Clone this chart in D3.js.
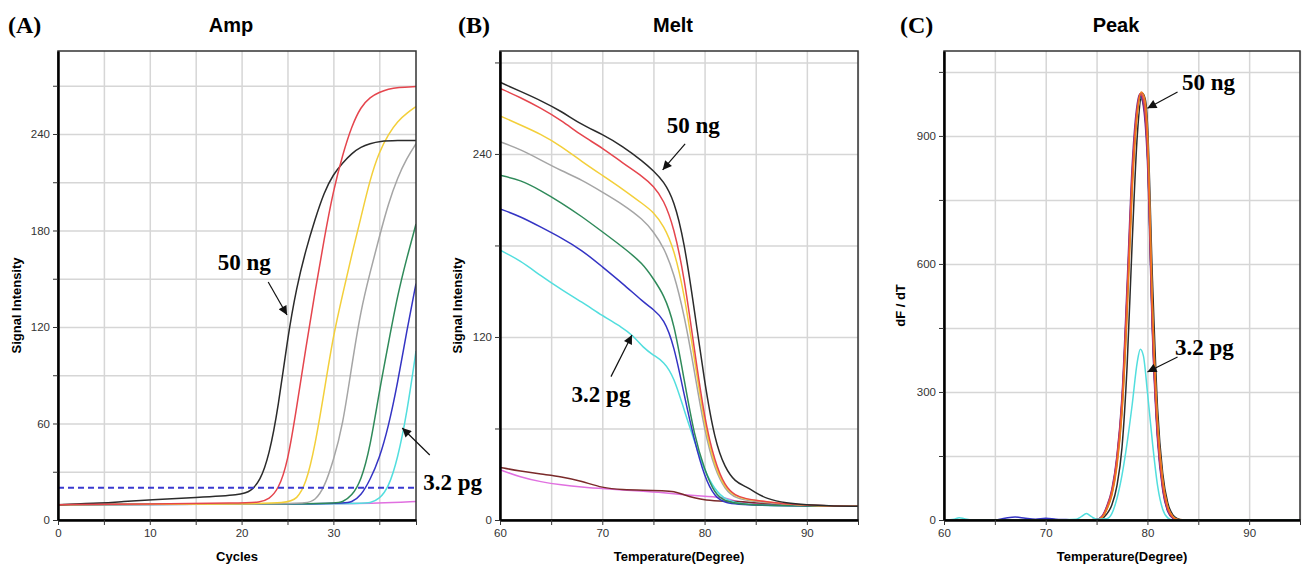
<!DOCTYPE html>
<html>
<head>
<meta charset="utf-8">
<script src="https://cdn.jsdelivr.net/npm/d3@7"></script>
<style>
  body { margin: 0; background: #fff; }
  svg { display: block; }
</style>
</head>
<body>
<svg width="1303" height="569"></svg>
<script>
// ---------- (A) Amp : cycle vs signal ----------
const ampXTicks = [0, 5, 10, 15, 20, 25, 30, 35]
const ampXLabels = [0, 10, 20, 30]
const ampYTicks = [0, 30, 60, 90, 120, 150, 180, 210, 240, 270]
const ampYLabels = [0, 60, 120, 180, 240]
const ampThreshold = 20

const ampBlack = [[0, 9.5], [5, 10.5], [7, 11.5], [10, 12.5], [15, 14], [20, 15.5], [21, 18], [22, 24], [23, 40], [24, 70], [25, 113], [26, 145], [27, 168], [28, 187], [29, 204], [30, 215], [31, 222], [32, 228], [33, 232], [34, 234], [35, 235.5], [37, 236], [39, 236]]
const ampRed = [[0, 9.5], [10, 10], [20, 10.5], [22, 11], [23, 13], [24, 19], [25, 35], [26, 70], [27, 107], [28, 142], [29, 175], [30, 205], [31, 227], [32, 245], [33, 257], [34, 263], [35, 266], [36, 268], [37, 269], [39, 269.5]]
const ampYellow = [[0, 9.5], [20, 10], [25, 10.5], [26, 13], [27, 22], [28, 46], [29, 80], [30, 115], [31, 140], [32, 165], [33, 188], [34, 212], [35, 229], [36, 240], [37, 248], [38, 253], [39, 257]]
const ampGray = [[0, 9.5], [25, 10], [27, 10.5], [28, 12], [29, 20], [30, 37], [31, 58], [32, 96], [33, 131], [34, 154], [35, 176], [36, 197], [37, 213], [38, 225], [39, 234]]
const ampGreen = [[0, 9.5], [30, 10], [31, 11], [32, 15], [33, 24], [34, 45], [35, 80], [36, 110], [37, 140], [38, 163], [39, 184]]
const ampBlue = [[0, 9.5], [31, 10], [32, 11], [33, 15], [34, 25], [35, 38], [36, 58], [37, 85], [38, 118], [39, 147]]
const ampCyan = [[0, 9.5], [33, 10], [34, 10.5], [35, 13], [36, 20], [37, 38], [38, 66], [39, 105]]
const ampPink = [[0, 9.5], [30, 10], [35, 10.5], [39, 11.5]]

// ---------- (B) Melt : temperature vs signal ----------
const meltXTicks = [60, 65, 70, 75, 80, 85, 90, 95]
const meltXLabels = [60, 70, 80, 90]
const meltYTicks = [0, 60, 120, 180, 240, 300]
const meltYLabels = [0, 120, 240]

const meltBlack = [[60, 287], [62, 281], [64, 275], [66, 268], [68, 259], [70, 253], [72, 245], [74, 235], [75, 229], [76, 222], [77, 210], [78, 183], [79, 138], [80, 90], [81, 52], [82, 34], [83, 25], [84, 22], [85, 18], [86, 14], [88, 11], [90, 10], [92, 9.3], [95, 9]]
const meltRed = [[60, 283], [62, 277], [64, 270], [66, 262], [68, 252], [70, 244], [72, 234], [74, 225], [75, 219], [76, 210], [77, 192], [78, 160], [79, 112], [80, 66], [81, 38], [82, 22], [83, 16], [84, 14], [85, 13], [87, 11], [90, 9.5], [95, 9]]
const meltYellow = [[60, 265], [62, 259], [64, 253], [66, 245], [68, 235], [70, 226], [72, 217], [74, 207], [75, 202], [76, 193], [77, 178], [78, 149], [79, 106], [80, 62], [81, 35], [82, 21], [83, 15.5], [84, 13.5], [86, 12], [88, 10.5], [90, 9.5], [95, 9]]
const meltGray = [[60, 248], [62, 243], [64, 236], [66, 229], [68, 223], [70, 215], [72, 207], [74, 197], [75, 189], [76, 179], [77, 162], [78, 135], [79, 98], [80, 58], [81, 33], [82, 20], [83, 14], [85, 12], [88, 10], [95, 9]]
const meltGreen = [[60, 226], [62, 223], [64, 216], [66, 208], [68, 199], [70, 189], [72, 179], [74, 168], [75, 158], [76, 148], [77, 130], [78, 92], [79, 55], [80, 33], [81, 17], [82, 12], [84, 10], [88, 9.3], [95, 9]]
const meltBlue = [[60, 204], [62, 199], [64, 192], [66, 185], [68, 177], [70, 166], [72, 155], [74, 143], [75, 138], [76, 132], [77, 115], [78, 82], [79, 52], [80, 28], [81, 15], [82, 11], [84, 9.5], [95, 9]]
const meltCyan = [[60, 177], [62, 170], [64, 160], [66, 151], [68, 143], [70, 134], [72, 126], [73, 121], [74, 113], [75, 108], [76, 104], [77, 94], [78, 72], [79, 52], [80, 32], [81, 20], [82, 13], [84, 10], [86, 9.5], [95, 9]]
const meltPink = [[60, 33], [62, 28], [64, 25], [66, 23], [68, 21.5], [70, 20.5], [74, 19], [76, 18], [78, 16.5], [80, 15.5], [82, 15], [83, 12], [85, 10.5], [90, 9.5], [95, 9]]
const meltBrown = [[60, 34.5], [62, 32], [64, 30], [66, 28.5], [68, 25.5], [70, 21], [72, 19.8], [74, 19.5], [76, 19.2], [77, 18.8], [78, 16.5], [79, 14.5], [80, 13], [82, 12.3], [84, 12], [86, 10.8], [88, 10], [90, 9.5], [95, 9]]

// ---------- (C) Peak : temperature vs dF/dT ----------
const peakXTicks = [60, 65, 70, 75, 80, 85, 90, 95]
const peakXLabels = [60, 70, 80, 90]
const peakYTicks = [0, 150, 300, 450, 600, 750, 900, 1050]
const peakYLabels = [0, 300, 600, 900]

const peakRed = [[60, 0], [74, 0], [75, 1], [75.5, 7], [76, 30], [76.5, 68], [77, 145], [77.5, 280], [78, 530], [78.5, 810], [79, 965], [79.3, 1000], [79.6, 985], [80, 870], [80.5, 450], [81, 200], [81.5, 80], [82, 25], [82.5, 6], [83, 0], [95, 0]]
const peakOrange = [[60, 0], [74, 0], [75, 0], [75.5, 5], [76, 24], [76.5, 58], [77, 125], [77.5, 250], [78, 480], [78.5, 770], [79, 950], [79.4, 1003], [79.7, 990], [80, 910], [80.5, 500], [81, 230], [81.5, 95], [82, 32], [82.5, 8], [83, 1], [84, 0], [95, 0]]
const peakPurple = [[60, 0], [74, 0], [75, 1], [75.5, 8], [76, 32], [76.5, 72], [77, 150], [77.5, 290], [78, 550], [78.5, 830], [79, 975], [79.25, 998], [79.6, 970], [80, 840], [80.5, 430], [81, 185], [81.5, 70], [82, 20], [82.5, 4], [83, 0], [95, 0]]
const peakYellow = [[60, 0], [74, 0], [75, 0], [75.5, 6], [76, 26], [76.5, 60], [77, 135], [77.5, 260], [78, 500], [78.5, 790], [79, 955], [79.3, 995], [79.6, 980], [80, 860], [80.5, 460], [81, 205], [81.5, 82], [82, 26], [82.5, 6], [83, 0], [95, 0]]
const peakGray = [[60, 0], [74, 0], [75, 0], [75.5, 5], [76, 25], [76.5, 60], [77, 130], [77.5, 255], [78, 490], [78.5, 780], [79, 950], [79.4, 998], [79.7, 985], [80, 900], [80.5, 490], [81, 225], [81.5, 92], [82, 30], [82.5, 8], [83, 1], [84, 0], [95, 0]]
const peakGreen = [[60, 0], [74, 0], [75, 1], [75.5, 6], [76, 27], [76.5, 63], [77, 138], [77.5, 265], [78, 510], [78.5, 795], [79, 958], [79.3, 990], [79.6, 975], [80, 865], [80.5, 455], [81, 200], [81.5, 80], [82, 24], [82.5, 5], [83, 0], [95, 0]]
const peakBlue = [[60, 0], [65, 0], [66, 4], [67, 7], [68, 4], [69, 2], [70, 4], [71, 2], [72, 1], [73, 0], [74, 0], [75, 1], [75.5, 7], [76, 29], [76.5, 66], [77, 142], [77.5, 275], [78, 525], [78.5, 805], [79, 962], [79.3, 993], [79.6, 978], [80, 862], [80.5, 445], [81, 195], [81.5, 76], [82, 22], [82.5, 5], [83, 0], [95, 0]]
const peakBlack = [[60, 0], [74, 0], [75, 0], [75.5, 3], [76, 14], [76.5, 35], [77, 80], [77.5, 170], [78, 360], [78.5, 650], [79, 900], [79.5, 1000], [79.8, 985], [80, 930], [80.5, 560], [81, 260], [81.5, 110], [82, 40], [82.5, 12], [83, 3], [83.5, 0], [95, 0]]
const peakCyan = [[60, 0], [61, 2], [61.5, 5], [62, 3], [63, 0], [70, 0], [73, 2], [73.5, 8], [74, 15], [74.5, 8], [75, 2], [76, 3], [76.5, 15], [77, 50], [77.5, 105], [78, 180], [78.5, 270], [79, 370], [79.3, 400], [79.6, 385], [80, 300], [80.5, 180], [81, 80], [81.5, 25], [82, 5], [82.5, 0], [95, 0]]

// ---------- style ----------
const col = {
    black: '#2b2b2b', red: '#e5454d', yellow: '#f3cf3a', gray: '#a5a5a5',
    green: '#2f8a5a', blue: '#3434c4', cyan: '#52dede', pink: '#e070e0',
    brown: '#7a2a2a', orange: '#f07a1a', purple: '#6a2c8c'
}
const gridColor = '#d6d6d6'
const sans = '"Liberation Sans", Arial, sans-serif'
const serif = '"Liberation Serif", "Times New Roman", serif'

const svg = d3.select('svg')

const defs = svg.append('defs')
defs.append('marker')
    .attr('id', 'arrow')
    .attr('viewBox', '0 0 10 10')
    .attr('refX', 10)
    .attr('refY', 5)
    .attr('markerWidth', 11)
    .attr('markerHeight', 9)
    .attr('markerUnits', 'userSpaceOnUse')
    .attr('orient', 'auto')
    .append('path')
    .attr('d', 'M0,0 L10,5 L0,10 z')
    .attr('fill', '#111')

function drawPanel(p) {
    const x = d3.scaleLinear().domain(p.xDomain).range([p.left, p.right])
    const y = d3.scaleLinear().domain(p.yDomain).range([p.bottom, p.top])
    const h = p.bottom - p.top
    const w = p.right - p.left
    const g = svg.append('g')

    // grid
    g.append('g')
        .attr('transform', `translate(0,${p.bottom})`)
        .call(d3.axisBottom(x).tickValues(p.xTicks.filter(d => d > p.xDomain[0])).tickSize(-h).tickFormat(''))
        .call(a => a.select('.domain').remove())
        .selectAll('line').attr('stroke', gridColor).attr('stroke-width', 1.5)
    g.append('g')
        .attr('transform', `translate(${p.left},0)`)
        .call(d3.axisLeft(y).tickValues(p.yTicks.filter(d => d > 0)).tickSize(-w).tickFormat(''))
        .call(a => a.select('.domain').remove())
        .selectAll('line').attr('stroke', gridColor).attr('stroke-width', 1.5)

    // curves
    g.append('clipPath').attr('id', 'clip-' + p.id)
        .append('rect')
        .attr('x', p.left).attr('y', p.top).attr('width', w).attr('height', h)

    const line = d3.line()
        .x(d => x(d[0]))
        .y(d => y(d[1]))
        .curve(p.curve)

    const lines = g.append('g').attr('clip-path', `url(#clip-${p.id})`)
    lines.selectAll('path')
        .data(p.series)
        .join('path')
        .attr('d', s => line(s.values))
        .attr('fill', 'none')
        .attr('stroke', s => s.color)
        .attr('stroke-width', 1.5)

    if (p.threshold != null) {
        lines.append('line')
            .attr('x1', p.left).attr('x2', p.right)
            .attr('y1', y(p.threshold)).attr('y2', y(p.threshold))
            .attr('stroke', '#3a3ad0')
            .attr('stroke-width', 2)
            .attr('stroke-dasharray', '6,4')
    }

    // frame
    g.append('rect')
        .attr('x', p.left).attr('y', p.top).attr('width', w).attr('height', h)
        .attr('fill', 'none').attr('stroke', '#333').attr('stroke-width', 1.5)

    // axes
    const xAxis = g.append('g')
        .attr('transform', `translate(0,${p.bottom})`)
        .call(d3.axisBottom(x).tickValues(p.xTicks.concat([p.xDomain[1]]))
            .tickSize(5).tickSizeOuter(0).tickPadding(4)
            .tickFormat(d => p.xLabels.includes(d) ? d : ''))
    const yAxis = g.append('g')
        .attr('transform', `translate(${p.left},0)`)
        .call(d3.axisLeft(y).tickValues(p.yTicks)
            .tickSize(5).tickSizeOuter(0).tickPadding(3)
            .tickFormat(d => p.yLabels.includes(d) ? d : ''))
    for (const a of [xAxis, yAxis]) {
        a.select('.domain').attr('stroke', '#000').attr('stroke-width', 2.5)
        a.selectAll('.tick line').attr('stroke', '#333').attr('stroke-width', 1)
        a.selectAll('text')
            .attr('fill', '#333')
            .style('font-family', sans)
            .style('font-size', '11.5px')
    }

    // titles
    g.append('text')
        .attr('x', (p.left + p.right) / 2 - 6)
        .attr('y', 32)
        .attr('text-anchor', 'middle')
        .style('font-family', sans)
        .style('font-weight', 'bold')
        .style('font-size', '20px')
        .text(p.title)
    g.append('text')
        .attr('x', p.tagX)
        .attr('y', 33)
        .style('font-family', serif)
        .style('font-weight', 'bold')
        .style('font-size', '24px')
        .text(p.tag)
    g.append('text')
        .attr('x', (p.left + p.right) / 2)
        .attr('y', 561)
        .attr('text-anchor', 'middle')
        .style('font-family', sans)
        .style('font-weight', 'bold')
        .style('font-size', '13px')
        .text(p.xTitle)
    g.append('text')
        .attr('transform', `translate(${p.yTitleX},${(p.top + p.bottom) / 2 + 20}) rotate(-90)`)
        .attr('text-anchor', 'middle')
        .style('font-family', sans)
        .style('font-weight', 'bold')
        .style('font-size', '13px')
        .text(p.yTitle)

    // annotations
    for (const n of p.notes) {
        g.append('line')
            .attr('x1', x(n.from[0])).attr('y1', y(n.from[1]))
            .attr('x2', x(n.to[0])).attr('y2', y(n.to[1]))
            .attr('stroke', '#111').attr('stroke-width', 1.2)
            .attr('marker-end', 'url(#arrow)')
        g.append('text')
            .attr('x', x(n.at[0])).attr('y', y(n.at[1]))
            .style('font-family', serif)
            .style('font-weight', 'bold')
            .style('font-size', '23px')
            .text(n.text)
    }
}

drawPanel({
    id: 'amp', tag: '(A)', tagX: 8, title: 'Amp',
    left: 58, right: 416, top: 51, bottom: 520,
    xDomain: [0, 39], yDomain: [0, 291.6],
    xTicks: ampXTicks, xLabels: ampXLabels, yTicks: ampYTicks, yLabels: ampYLabels,
    xTitle: 'Cycles', yTitle: 'Signal Intensity', yTitleX: 21,
    threshold: ampThreshold,
    curve: d3.curveBasis,
    series: [
        { values: ampPink, color: col.pink },
        { values: ampCyan, color: col.cyan },
        { values: ampBlue, color: col.blue },
        { values: ampGreen, color: col.green },
        { values: ampGray, color: col.gray },
        { values: ampYellow, color: col.yellow },
        { values: ampBlack, color: col.black },
        { values: ampRed, color: col.red }
    ],
    notes: [
        { text: '50 ng', at: [17.4, 155.5], from: [22.9, 148], to: [24.95, 127.5] },
        { text: '3.2 pg', at: [39.8, 18.7], from: [40.5, 40.4], to: [37.5, 57.2] }
    ]
})

drawPanel({
    id: 'melt', tag: '(B)', tagX: 458, title: 'Melt',
    left: 500, right: 858, top: 51, bottom: 520,
    xDomain: [60, 95], yDomain: [0, 307.5],
    xTicks: meltXTicks, xLabels: meltXLabels, yTicks: meltYTicks, yLabels: meltYLabels,
    xTitle: 'Temperature(Degree)', yTitle: 'Signal Intensity', yTitleX: 462,
    curve: d3.curveBasis,
    series: [
        { values: meltPink, color: col.pink },
        { values: meltBrown, color: col.brown },
        { values: meltCyan, color: col.cyan },
        { values: meltBlue, color: col.blue },
        { values: meltGreen, color: col.green },
        { values: meltGray, color: col.gray },
        { values: meltYellow, color: col.yellow },
        { values: meltRed, color: col.red },
        { values: meltBlack, color: col.black }
    ],
    notes: [
        { text: '50 ng', at: [76.3, 253.8], from: [78.1, 246.6], to: [75.9, 229.5] },
        { text: '3.2 pg', at: [67.0, 77.4], from: [70.85, 94], to: [72.9, 121.3] }
    ]
})

drawPanel({
    id: 'peak', tag: '(C)', tagX: 900, title: 'Peak',
    left: 944, right: 1300, top: 51, bottom: 520,
    xDomain: [60, 95], yDomain: [0, 1099],
    xTicks: peakXTicks, xLabels: peakXLabels, yTicks: peakYTicks, yLabels: peakYLabels,
    xTitle: 'Temperature(Degree)', yTitle: 'dF / dT', yTitleX: 905,
    curve: d3.curveMonotoneX,
    series: [
        { values: peakBlack, color: col.black },
        { values: peakGray, color: col.gray },
        { values: peakGreen, color: col.green },
        { values: peakYellow, color: col.yellow },
        { values: peakBlue, color: col.blue },
        { values: peakPurple, color: col.purple },
        { values: peakRed, color: col.red },
        { values: peakOrange, color: col.orange },
        { values: peakCyan, color: col.cyan }
    ],
    notes: [
        { text: '50 ng', at: [83.4, 1007], from: [82.96, 1003], to: [80.0, 965] },
        { text: '3.2 pg', at: [82.7, 386], from: [82.96, 382], to: [80.0, 347] }
    ]
})
</script>
</body>
</html>
